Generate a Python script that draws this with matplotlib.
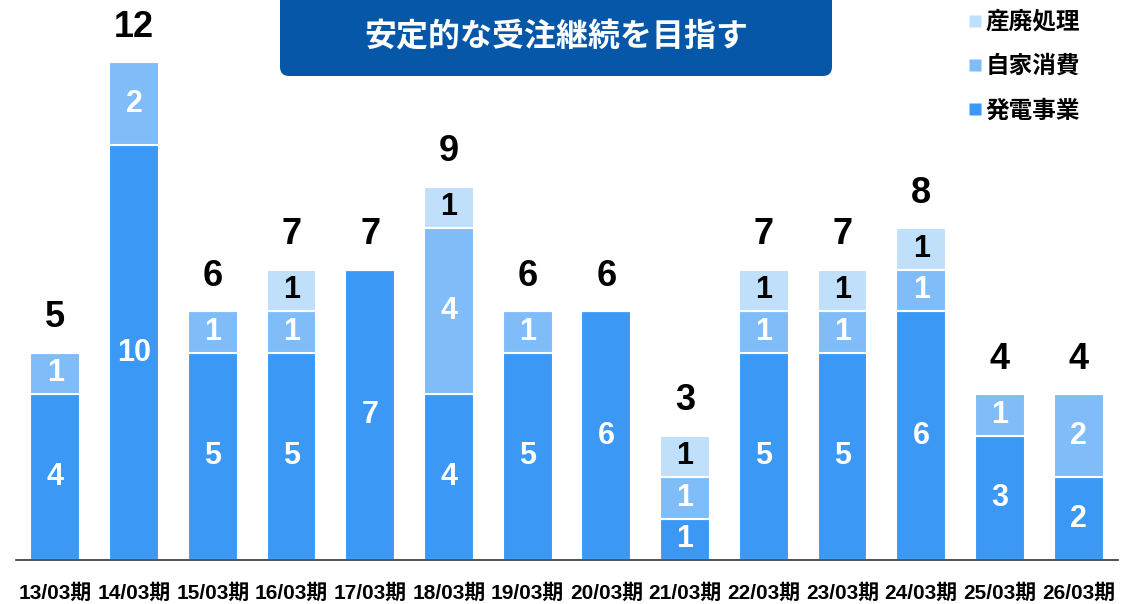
import numpy as np
import matplotlib.pyplot as plt
from matplotlib.patches import FancyBboxPatch
from matplotlib.lines import Line2D

plt.rcParams['font.family'] = ['Liberation Sans', 'Noto Sans CJK JP', 'DejaVu Sans']

periods = ['13/03期', '14/03期', '15/03期', '16/03期', '17/03期', '18/03期', '19/03期',
           '20/03期', '21/03期', '22/03期', '23/03期', '24/03期', '25/03期', '26/03期']
hatsuden = [4, 10, 5, 5, 7, 4, 5, 6, 1, 5, 5, 6, 3, 2]   # 発電事業
jika = [1, 2, 1, 1, 0, 4, 1, 0, 1, 1, 1, 1, 1, 2]        # 自家消費
sanpai = [0, 0, 0, 1, 0, 1, 0, 0, 1, 1, 1, 1, 0, 0]      # 産廃処理

series_names = ['発電事業', '自家消費', '産廃処理']
colors = ['#3b99f5', '#7fbcf8', '#bfdffb']
label_colors = ['white', 'white', 'black']
title = '安定的な受注継続を目指す'

fig = plt.figure(figsize=(11.32, 6.04), dpi=100)
ax = fig.add_axes([16 / 1132, 44 / 604, 1102 / 1132, 560 / 604])

x = np.arange(len(periods))
width = 0.635
bottom = np.zeros(len(periods))
for vals, name, col, lc in zip([hatsuden, jika, sanpai], series_names, colors, label_colors):
    vals = np.array(vals)
    ax.bar(x, vals, width, bottom=bottom, color=col, edgecolor='white',
           linewidth=1.5, label=name)
    for xi, v, b in zip(x, vals, bottom):
        if v > 0:
            ax.text(xi, b + v / 2, str(v), ha='center', va='center', color=lc,
                    fontsize=22, fontweight='bold')
    bottom = bottom + vals

for xi, t in zip(x, bottom):
    ax.annotate(str(int(t)), (xi, t), xytext=(0, 25), textcoords='offset points',
                ha='center', va='center', fontsize=26, fontweight='bold', color='black')

ax.set_xlim(-0.5, len(periods) - 0.5)
ax.set_ylim(0, 13.5)
ax.set_xticks(x)
ax.set_xticklabels(periods, fontsize=15, fontweight='bold')
ax.tick_params(axis='x', length=0, pad=17)
ax.set_yticks([])
for s in ['top', 'right', 'left']:
    ax.spines[s].set_visible(False)
ax.spines['bottom'].set_color('#333333')
ax.spines['bottom'].set_linewidth(1.2)

# title box
box = FancyBboxPatch((280 / 1132, (604 - 76) / 604), 552 / 1132, 100 / 604,
                     boxstyle='round,pad=0,rounding_size=0.008',
                     mutation_aspect=1132 / 604, transform=fig.transFigure,
                     facecolor='#0657a8', edgecolor='none', zorder=5)
fig.patches.append(box)
fig.text(556 / 1132, 1 - 37 / 604, title, ha='center', va='center', color='white',
         fontsize=23, fontweight='bold', family=['Noto Sans CJK JP'], zorder=6)

handles = [Line2D([], [], marker='s', linestyle='none', markersize=8,
                  markerfacecolor=c, markeredgecolor='none') for c in colors[::-1]]
ax.legend(handles, series_names[::-1], loc='upper left',
          bbox_to_anchor=(956 / 1132, 1 + 1 / 604), bbox_transform=fig.transFigure,
          frameon=False, prop={'weight': 'bold', 'size': 17},
          handlelength=0.6, handletextpad=0.15, labelspacing=0.9, borderpad=0)

fig.savefig('out.png', dpi=100)
